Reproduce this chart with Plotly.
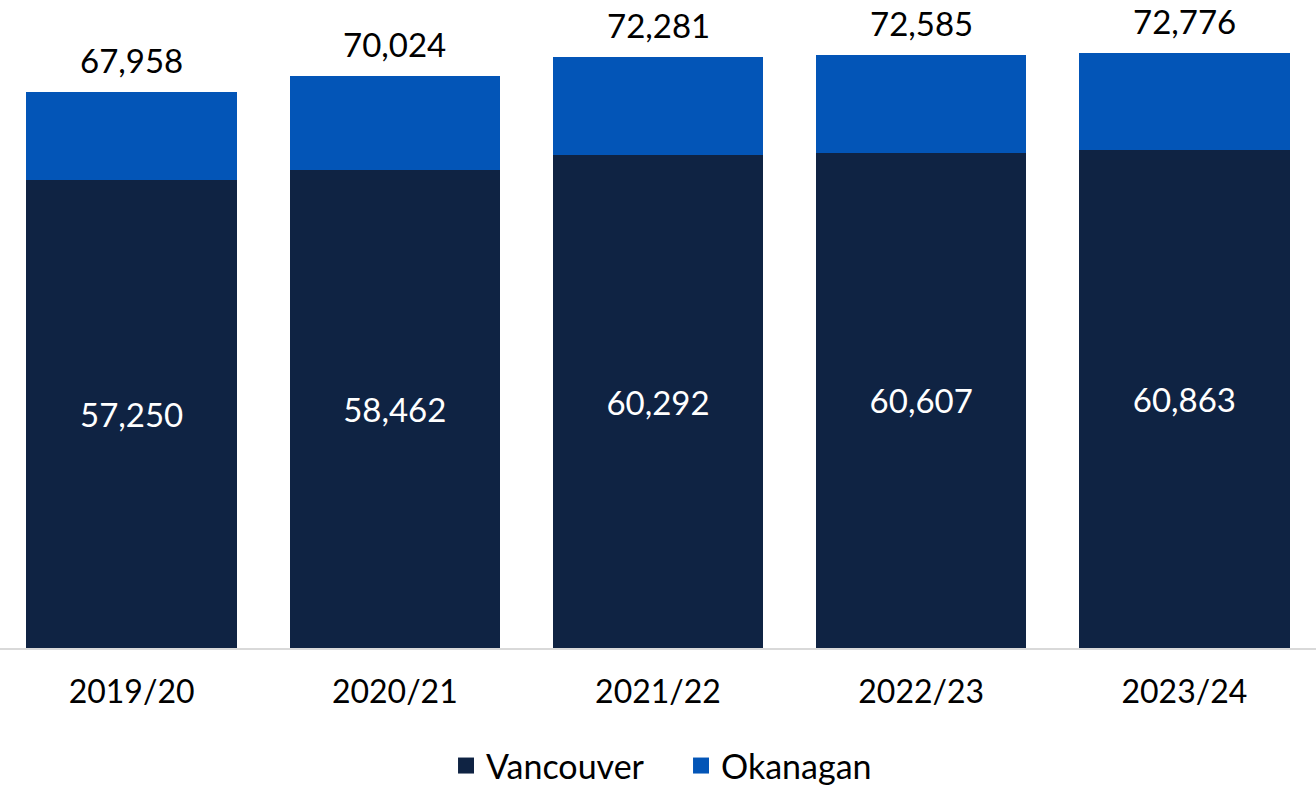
import plotly.graph_objects as go

years = ['2019/20', '2020/21', '2021/22', '2022/23', '2023/24']
vancouver = [57250, 58462, 60292, 60607, 60863]
okanagan = [10708, 11562, 11989, 11978, 11913]
totals = [67958, 70024, 72281, 72585, 72776]

navy = '#0F2343'
blue = '#0355B7'
font = 'Lato'

fig = go.Figure()
fig.add_trace(go.Bar(x=years, y=vancouver, name='Vancouver',
                     marker=dict(color=navy, line=dict(width=0)),
                     text=[f'{v:,}' for v in vancouver],
                     textposition='inside', insidetextanchor='middle',
                     textfont=dict(color='white', size=33, family=font),
                     showlegend=False))
fig.add_trace(go.Bar(x=years, y=okanagan, name='Okanagan',
                     marker=dict(color=blue, line=dict(width=0)),
                     showlegend=False))

# legend squares
for name, c in [('Vancouver', navy), ('Okanagan', blue)]:
    fig.add_trace(go.Scatter(x=[None], y=[None], mode='markers', name=name,
                             marker=dict(symbol='square', size=21, color=c)))

for yr, t in zip(years, totals):
    fig.add_annotation(x=yr, y=t, text=f'{t:,}', showarrow=False,
                       yanchor='bottom', yshift=10,
                       font=dict(size=33, color='black', family=font))

fig.update_layout(
    barmode='stack', bargap=0.2,
    width=1316, height=786,
    margin=dict(l=0, r=0, t=0, b=138, autoexpand=False),
    plot_bgcolor='white', paper_bgcolor='white',
    font=dict(family=font, size=33, color='black'),
    legend=dict(orientation='h', x=0.5175, xanchor='center', y=-0.182, yanchor='middle',
                traceorder='normal', font=dict(size=34), entrywidth=190,
                itemsizing='trace', itemwidth=30, tracegroupgap=0),
    xaxis=dict(showline=True, linecolor='#D9D9D9', linewidth=2, ticks='',
               automargin=False, ticklabelstandoff=15, tickfont=dict(size=32)),
    yaxis=dict(range=[0, 79260], visible=False, showgrid=False, automargin=False),
)

fig.write_html('out.html', config={'displayModeBar': False},
               post_script="document.body.style.margin='0';")
